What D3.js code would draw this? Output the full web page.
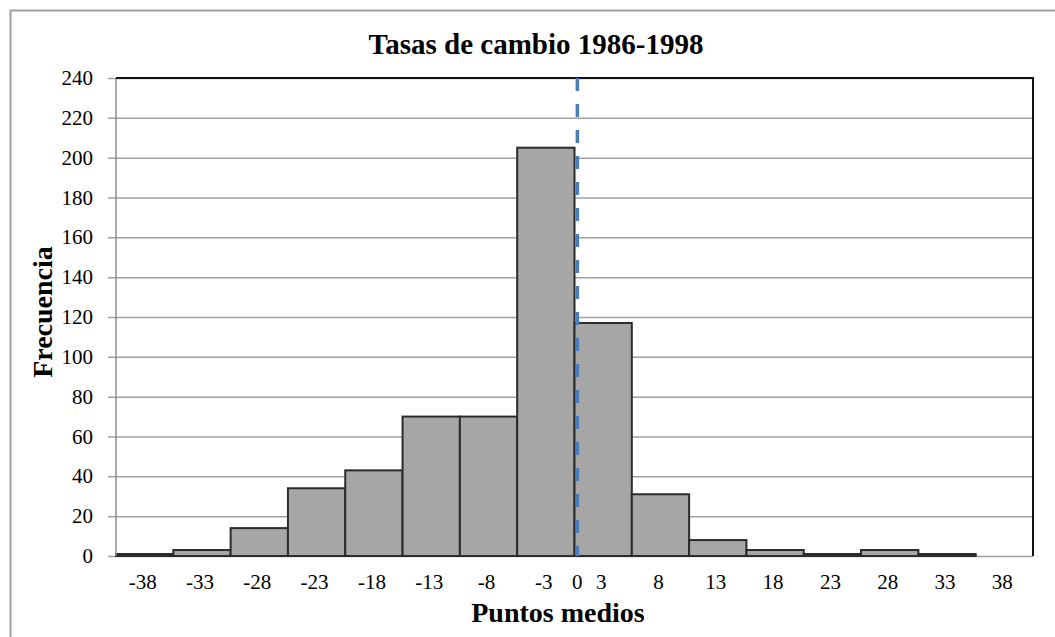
<!DOCTYPE html>
<html lang="es">
<head>
	<meta charset="UTF-8"/>
	<title>Tasas de cambio 1986-1998</title>
	<script src="https://d3js.org/d3.v7.min.js"></script>
	<style>
		body { margin: 0; background: #fff; }
		text { font-family: "Liberation Serif", "Times New Roman", serif; fill: #000; }
	</style>
</head>
<body>
<script>
	// puntos medios de cada clase y frecuencias
	var midpoints = ["-38","-33","-28","-23","-18","-13","-8","-3","3","8","13","18","23","28","33","38"];
	var frequencies = [1,3,14,34,43,70,70,205,117,31,8,3,1,3,1,0];
	var yTicks = [0,20,40,60,80,100,120,140,160,180,200,220,240];

	var w = 1055;
	var h = 637;
	var margin = {top: 78, right: 22, bottom: 81, left: 116};

	var svg = d3.select("body").append("svg").attr("width", w).attr("height", h);

	// pattern for the stippled bar fill
	var pat = svg.append("defs").append("pattern")
		.attr("id", "dots")
		.attr("width", 4).attr("height", 4)
		.attr("patternUnits", "userSpaceOnUse");
	pat.append("rect").attr("width", 4).attr("height", 4).attr("fill", "#a8a8a8");
	pat.append("rect").attr("x", 1).attr("y", 1).attr("width", 1).attr("height", 1).attr("fill", "#9a9a9a");
	pat.append("rect").attr("x", 3).attr("y", 3).attr("width", 1).attr("height", 1).attr("fill", "#9c9c9c");

	// outer chart frame
	svg.append("rect")
		.attr("x", 10.5).attr("y", 10.5)
		.attr("width", w + 20).attr("height", h + 20)
		.attr("fill", "none")
		.attr("stroke", "#a0a0a0")
		.attr("stroke-width", 2);

	var xScale = d3.scaleBand()
		.domain(midpoints)
		.range([margin.left, w - margin.right])
		.paddingInner(0);

	var yScale = d3.scaleLinear()
		.domain([0, 240])
		.range([h - margin.bottom, margin.top]);

	var x0 = margin.left;
	var x1 = w - margin.right;

	// gridlines
	svg.append("g").selectAll("line").data(yTicks).enter().append("line")
		.attr("x1", x0 - 8)
		.attr("x2", x1)
		.attr("y1", function(d){ return yScale(d) + 0.5; })
		.attr("y2", function(d){ return yScale(d) + 0.5; })
		.attr("stroke", "#a0a0a0")
		.attr("stroke-width", 1.5);

	// y labels
	svg.append("g").selectAll("text").data(yTicks).enter().append("text")
		.attr("x", x0 - 23)
		.attr("y", function(d){ return yScale(d); })
		.attr("dy", "0.34em")
		.attr("text-anchor", "end")
		.style("font-size", "21px")
		.text(function(d){ return d; });

	// bars
	svg.append("g").selectAll("rect").data(frequencies).enter().append("rect")
		.attr("x", function(d, i){ return xScale(midpoints[i]); })
		.attr("y", function(d){ return yScale(d); })
		.attr("width", xScale.bandwidth())
		.attr("height", function(d){ return yScale(0) - yScale(d); })
		.attr("fill", "url(#dots)")
		.attr("stroke", function(d){ return d > 0 ? "#2b2b2b" : "none"; })
		.attr("stroke-width", 2);

	// left axis line
	svg.append("line")
		.attr("x1", x0).attr("x2", x0)
		.attr("y1", yScale(240)).attr("y2", yScale(0))
		.attr("stroke", "#8c8c8c").attr("stroke-width", 1.5);

	// plot border top and right
	svg.append("path")
		.attr("d", "M" + x0 + "," + yScale(240) + "H" + x1 + "V" + yScale(0))
		.attr("fill", "none")
		.attr("stroke", "#111")
		.attr("stroke-width", 2);

	// dashed line at zero
	var zeroX = xScale("3") + xScale.bandwidth() * 0.05;
	svg.append("line")
		.attr("x1", zeroX).attr("x2", zeroX)
		.attr("y1", yScale(240)).attr("y2", yScale(0))
		.attr("stroke", "#4a7ebb")
		.attr("stroke-width", 3.5)
		.attr("stroke-dasharray", "13,13");

	// x labels
	svg.append("g").selectAll("text").data(midpoints).enter().append("text")
		.attr("x", function(d){ return xScale(d) + xScale.bandwidth() / 2 - 2; })
		.attr("y", yScale(0) + 33)
		.attr("text-anchor", "middle")
		.style("font-size", "21px")
		.text(function(d){ return d; });

	svg.append("text")
		.attr("x", zeroX)
		.attr("y", yScale(0) + 33)
		.attr("text-anchor", "middle")
		.style("font-size", "21px")
		.text("0");

	// titles
	svg.append("text")
		.attr("x", 536)
		.attr("y", 54)
		.attr("text-anchor", "middle")
		.style("font-size", "29px")
		.style("font-weight", "bold")
		.text("Tasas de cambio 1986-1998");

	svg.append("text")
		.attr("x", 558)
		.attr("y", 622)
		.attr("text-anchor", "middle")
		.style("font-size", "28px")
		.style("font-weight", "bold")
		.text("Puntos medios");

	svg.append("text")
		.attr("transform", "translate(52," + 312 + ") rotate(-90)")
		.attr("text-anchor", "middle")
		.style("font-size", "28px")
		.style("font-weight", "bold")
		.text("Frecuencia");
</script>
</body>
</html>
